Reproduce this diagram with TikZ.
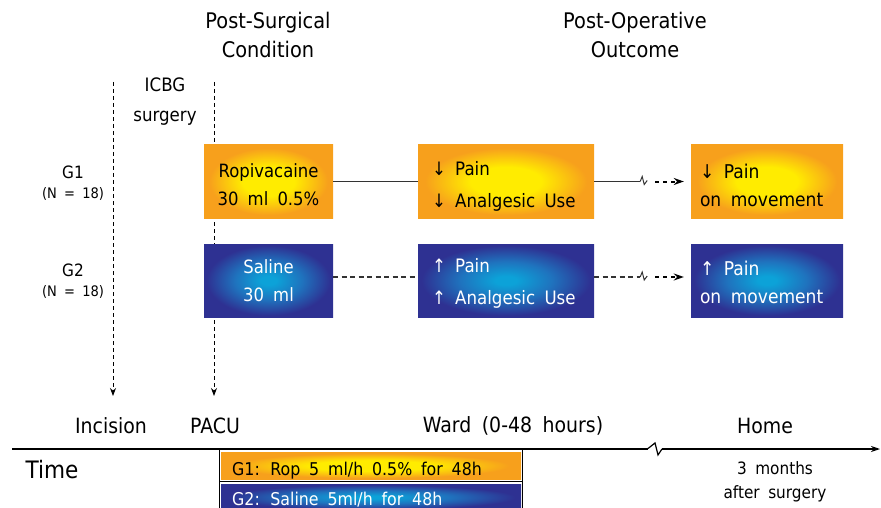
\documentclass[tikz,border=0pt]{standalone}
\usepackage{fontspec}
\setmainfont[FakeStretch=0.9]{DejaVu Sans}
\usetikzlibrary{arrows.meta}

\definecolor{ropedge}{HTML}{F7A01C}
\definecolor{ropcore}{HTML}{FFEC00}
\definecolor{saledge}{HTML}{2E3192}
\definecolor{salmid}{HTML}{1F73BE}
\definecolor{salcore}{HTML}{0CA2D8}
\definecolor{linegrey}{HTML}{333333}

\pgfdeclareradialshading{ropglow}{\pgfpoint{0bp}{0bp}}{%
  color(0bp)=(ropcore); color(10bp)=(ropcore); color(23bp)=(ropedge); color(50bp)=(ropedge)}
\pgfdeclareradialshading{salglow}{\pgfpoint{0bp}{0bp}}{%
  color(0bp)=(salcore); color(3bp)=(salcore); color(13bp)=(salmid); color(24bp)=(saledge); color(50bp)=(saledge)}

% font size with wide word spaces
\newcommand{\wfont}[2]{\fontsize{#1}{#2}\selectfont\spaceskip=0.5em\relax}

\begin{document}
\begin{tikzpicture}[x=1pt, y=-1pt,
    txt/.style={
        align=center,
        inner sep=0pt,
        font=\wfont{21}{29},
    },
    box/.style={
        shade,
        inner sep=0pt,
        minimum height=73pt,
    },
    condbox/.style={box, minimum width=129pt},
    outbox/.style={box, minimum width=176pt},
    homebox/.style={box, minimum width=152pt},
    rop/.style={shading=ropglow, text=black},
    sal/.style={shading=salglow, text=white},
    condtxt/.style={txt, font=\wfont{18.3}{28}},
    outtxt/.style={txt, anchor=west, align=left, font=\wfont{18.5}{32}},
    hometxt/.style={txt, anchor=west, align=left, font=\wfont{19}{28}},
    bar/.style={shade, anchor=north west, inner sep=0pt, minimum width=300pt},
    bartxt/.style={txt, anchor=base west, font=\wfont{17.6}{18}},
    vline/.style={line width=1pt, dash pattern=on 4pt off 3pt, -{Stealth[length=8pt, width=6pt]}},
    link/.style={line width=1.2pt, linegrey},
    cut/.style={line width=1pt, linegrey},
    jump/.style={line width=2pt, dash pattern=on 4pt off 4pt, -{Stealth[length=10pt, width=7pt]}},
]
\useasboundingbox (0,0) rectangle (881,508);

% time points of the surgery
\coordinate (incTop) at (113,82);
\coordinate (incTip) at (113,396);
\coordinate (pacuTop) at (214,82);
\coordinate (pacuTip) at (214,396);
\draw[vline] (incTop) -- (incTip);
\draw[vline] (pacuTop) -- (pacuTip);

\node[txt, font=\wfont{21.5}{29}] (headCond) at (268,35) {Post-Surgical\\Condition};
\node[txt, font=\wfont{21.5}{29}] (headOut) at (635,35) {Post-Operative\\Outcome};
\node[txt, font=\wfont{18.5}{30}] (icbg) at (165,102) {ICBG\\surgery};
\node[txt, font=\wfont{17}{20}] (g1) at (73,172) {G1};
\node[txt, font=\wfont{14.5}{16}] (n1) at (73,194) {(N = 18)};
\node[txt, font=\wfont{17}{20}] (g2) at (73,270) {G2};
\node[txt, font=\wfont{14.5}{16}] (n2) at (73,292) {(N = 18)};

\node[condbox, rop] (ropCond) at (268.5,181.5) {};
\node[condbox, sal] (salCond) at (268.5,280.5) {};
\node[outbox, rop] (ropOut) at (506,181.5) {};
\node[outbox, sal] (salOut) at (506,280.5) {};
\node[homebox, rop] (ropHome) at (767,181.5) {};
\node[homebox, sal] (salHome) at (767,280.5) {};

\node[condtxt] (ropCondTxt) at ([yshift=-3.5pt]ropCond.center) {Ropivacaine\\30 ml 0.5\%};
\node[condtxt, white] (salCondTxt) at (salCond.center) {Saline\\30 ml};
\node[outtxt] (ropOutTxt) at ([xshift=14pt, yshift=-5pt]ropOut.west) {↓ Pain\\↓ Analgesic Use};
\node[outtxt, white] (salOutTxt) at ([xshift=14pt, yshift=-3pt]salOut.west) {↑ Pain\\↑ Analgesic Use};
\node[hometxt] (ropHomeTxt) at ([xshift=9pt, yshift=-3.5pt]ropHome.west) {↓ Pain\\on movement};
\node[hometxt, white] (salHomeTxt) at ([xshift=9pt, yshift=-2pt]salHome.west) {↑ Pain\\on movement};

\draw[link] (ropCond.east) -- (ropOut.west);
\draw[link] (ropOut.east) -- ++(46,0) coordinate (ropCut);
\draw[cut] (ropCut) -- ++(2,-5) -- ++(2,8) -- ++(3,-4);
\draw[jump] ([xshift=61pt]ropOut.east) -- ([xshift=-7pt]ropHome.west);

\draw[link, dash pattern=on 5pt off 3.5pt] ([yshift=3.5pt]salCond.east) -- ([yshift=3.5pt]salOut.west);
\draw[link, dash pattern=on 5pt off 3.5pt] ([yshift=3.5pt]salOut.east) -- ++(46,0) coordinate (salCut);
\draw[cut] (salCut) -- ++(2,-5) -- ++(2,8) -- ++(3,-4);
\draw[jump] ([xshift=61pt, yshift=3.5pt]salOut.east) -- ([xshift=-7pt, yshift=3.5pt]salHome.west);

% time line
\node[txt] (incision) at (111,426) {Incision};
\node[txt] (pacu) at (215,426) {PACU};
\node[txt] (ward) at (513,426) {Ward (0-48 hours)};
\node[txt] (home) at (765,426) {Home};
\node[txt, font=\wfont{24}{28}] (time) at (52,470) {Time};
\node[txt, font=\wfont{17}{24}] (months) at (775,482) {3 months\\after surgery};

\coordinate (timeStart) at (12,448.5);
\coordinate (timeCut) at (648,448.5);
\coordinate (timeEnd) at (880,449);
\draw[line width=2pt] (timeStart) -- (timeCut);
\draw[line width=1.2pt] (timeCut) -- ++(7,-5.5) -- ++(3,12) -- ++(4,-6) coordinate (timeResume);
\draw[line width=1.2pt, -{Stealth[length=9pt, width=6pt]}] (timeResume) -- (timeEnd);

% infusion bars below the time line
\node[bar, rop, minimum height=27pt] (ropBar) at (221,452) {};
\node[bar, sal, minimum height=26pt] (salBar) at (221,484) {};
\node[bartxt] (ropBarTxt) at (232,475) {G1: Rop 5 ml/h 0.5\% for 48h};
\node[bartxt, white] (salBarTxt) at (232,505) {G2: Saline 5ml/h for 48h};
\draw[line width=1pt]
    (219.5,449) -- (219.5,510)
    (522,449) -- (522,510)
    (219.5,481.5) -- (522,481.5);

\end{tikzpicture}
\end{document}
